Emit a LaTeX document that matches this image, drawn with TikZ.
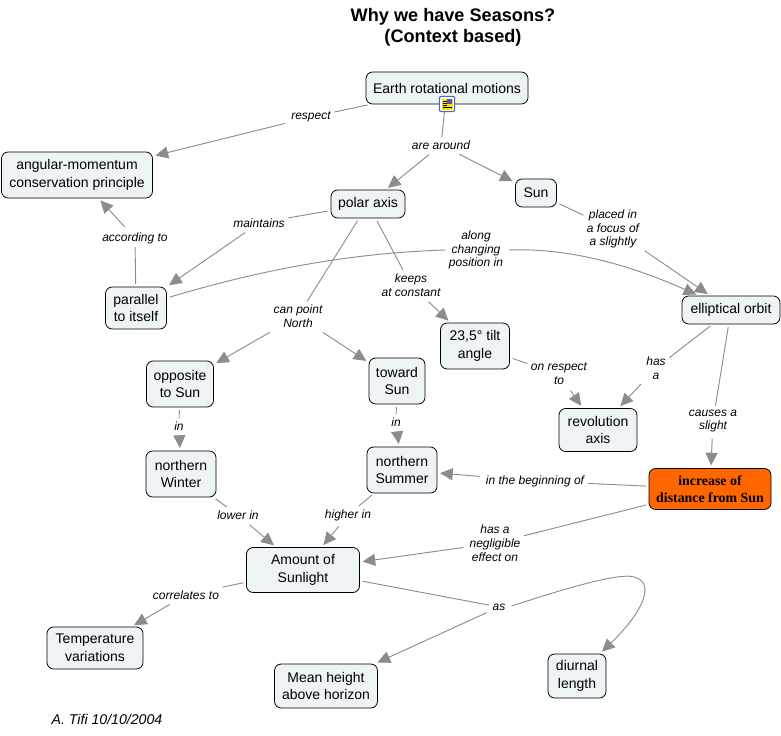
\documentclass[tikz,border=0pt]{standalone}
\usepackage{fontspec}
\setmainfont{Liberation Sans}
\newfontfamily\serifbold{Liberation Serif}
\usetikzlibrary{arrows.meta}
\definecolor{conceptfill}{HTML}{EEF3F6}
\definecolor{linkgray}{HTML}{8C8C8C}
\definecolor{hotfill}{HTML}{FF6600}
\definecolor{iconblue}{HTML}{3C6EBE}
\begin{document}
\begin{tikzpicture}[
    x=0.75pt, y=-0.75pt,
    every node/.style={font=\fontsize{10.5}{13.2}\selectfont},
    dims/.style 2 args={minimum width=#1*0.75pt, minimum height=#2*0.75pt},
    concept/.style={draw=black, line width=0.6pt, rounded corners=5pt, align=center, inner sep=0pt, fill=conceptfill},
    hotconcept/.style={concept, fill=hotfill, font=\serifbold\bfseries\fontsize{10.4}{12.8}\selectfont},
    linkword/.style={align=center, inner sep=2.5pt, font=\itshape\fontsize{9}{10.4}\selectfont},
    link/.style={draw=linkgray, line width=0.7pt, shorten <=2pt},
    flow/.style={link, -{Triangle[length=9.5pt,width=9pt]}, shorten >=2pt}
]
\useasboundingbox (0,0) rectangle (781,735);
\node[font=\bfseries\fontsize{13.6}{15.5}\selectfont, align=center] (title) at (453,27) {Why we have Seasons?\\(Context based)};

% concepts
\node[concept, dims={162}{32}] (earth) at (447,88) {Earth rotational motions};
\node[concept, dims={151}{46}] (momentum) at (77,175) {angular-momentum\\conservation principle};
\node[concept, dims={74}{28}] (polar) at (368,204) {polar axis};
\node[concept, dims={41}{28}] (sun) at (536,193) {Sun};
\node[concept, dims={61}{42}] (parallel) at (136,308) {parallel\\to itself};
\node[concept, dims={98}{28}] (orbit) at (731,310) {elliptical orbit};
\node[concept, dims={67}{46}] (opposite) at (180,384) {opposite\\to Sun};
\node[concept, dims={56}{46}] (toward) at (397,381) {toward\\Sun};
\node[concept, dims={69}{46}] (tilt) at (475,346) {23,5° tilt\\angle};
\node[concept, dims={78}{43}] (revolution) at (598,430) {revolution\\axis};
\node[concept, dims={70}{46}] (winter) at (181,474) {northern\\Winter};
\node[concept, dims={70}{46}] (summer) at (402,470) {northern\\Summer};
\node[hotconcept, dims={122}{41}] (distance) at (710,489) {increase of\\distance from Sun};
\node[concept, dims={113}{45}] (sunlight) at (303,570) {Amount of\\Sunlight};
\node[concept, dims={96}{42}] (temperature) at (95,648) {Temperature\\variations};
\node[concept, dims={103}{44}] (height) at (326,686) {Mean height\\above horizon};
\node[concept, dims={58}{44}] (diurnal) at (577,676) {diurnal\\length};

% linking words
\node[linkword] (respect) at (311,117) {respect};
\node[linkword] (around) at (441,145) {are around};
\node[linkword] (maintains) at (259,223) {maintains};
\node[linkword] (according) at (135,238) {according to};
\node[linkword] (along) at (476,250) {along\\changing\\position in};
\node[linkword] (placed) at (613,229) {placed in\\a focus of\\a slightly};
\node[linkword] (keeps) at (411,285) {keeps\\at constant};
\node[linkword] (point) at (298,316) {can point\\North};
\node[linkword] (hasa) at (656,368) {has\\a};
\node[linkword] (onrespect) at (559,374) {on respect\\to};
\node[linkword] (causes) at (713,421) {causes a\\slight};
\node[linkword] (inwinter) at (179,426) {in};
\node[linkword] (insummer) at (396,422) {in};
\node[linkword] (lower) at (238,515) {lower in};
\node[linkword] (higher) at (348,515) {higher in};
\node[linkword] (beginning) at (535,481) {in the beginning of};
\node[linkword] (negligible) at (495,543) {has a\\negligible\\effect on};
\node[linkword] (correlates) at (186,595) {correlates to};
\node[linkword] (as) at (499,607) {as};
\node[font=\itshape\fontsize{10.6}{12}\selectfont] (signature) at (107,719) {A. Tifi 10/10/2004};

% connectors
\draw[link] (earth) -- (respect);
\draw[flow] (respect) -- (momentum);
\draw[link] (earth) -- (around);
\draw[flow] (around) -- (polar);
\draw[flow] (around) -- (sun);
\draw[link] (polar) -- (maintains);
\draw[flow] (maintains) -- (parallel);
\draw[link] (parallel) -- (according);
\draw[flow] (according) -- (momentum);
\coordinate (alongstart) at ([yshift=7.5pt]parallel.east);
\draw[link] (alongstart) .. controls (260,270) and (350,253) .. (along.west);
\draw[flow] (along.east) .. controls (570,248) and (630,265) .. (orbit);
\draw[link] (sun) -- (placed);
\draw[flow] (placed) -- (orbit);
\draw[link] (polar) -- (keeps);
\draw[flow] (keeps) -- (tilt);
\draw[link] (polar) -- (point);
\draw[flow] (point) -- (opposite);
\draw[flow] (point) -- (toward);
\draw[link] (orbit) -- (hasa);
\draw[flow] (hasa) -- (revolution);
\draw[link] (tilt) -- (onrespect);
\draw[flow] (onrespect) -- (revolution);
\draw[link] (orbit) -- (causes);
\draw[flow] (causes) -- (distance);
\draw[link] (opposite) -- (inwinter);
\draw[flow] (inwinter) -- (winter);
\draw[link] (toward) -- (insummer);
\draw[flow] (insummer) -- (summer);
\draw[link] (winter) -- (lower);
\draw[flow] (lower) -- (sunlight);
\draw[link] (summer) -- (higher);
\draw[flow] (higher) -- (sunlight);
\draw[link] (distance) -- (beginning);
\draw[flow] (beginning) -- (summer);
\draw[link] (distance) -- (negligible);
\draw[flow] (negligible) -- (sunlight);
\draw[link] (sunlight) -- (correlates);
\draw[flow] (correlates) -- (temperature);
\draw[link] (sunlight) -- (as);
\draw[flow] (as) -- (height);
\draw[flow] (as.east) .. controls (560,590) and (620,572) .. (634,577) .. controls (655,582) and (645,610) .. (diurnal);

% resource icon on the top concept
\node[draw=iconblue, line width=0.8pt, rounded corners=1.5pt, fill=white, minimum size=11.5pt, inner sep=0pt] (icon) at (447,104) {};
\fill[yellow!85!orange] (441.5,98.5) rectangle (452.5,109.5);
\fill[gray!70!blue] (447,99) rectangle (452,104);
\foreach \yline in {101,103,105}
    \draw[black, line width=0.35pt] (442.5,\yline) -- (446.5,\yline);
\draw[black, line width=0.35pt] (442.5,107) -- (451.5,107);
\end{tikzpicture}
\end{document}
